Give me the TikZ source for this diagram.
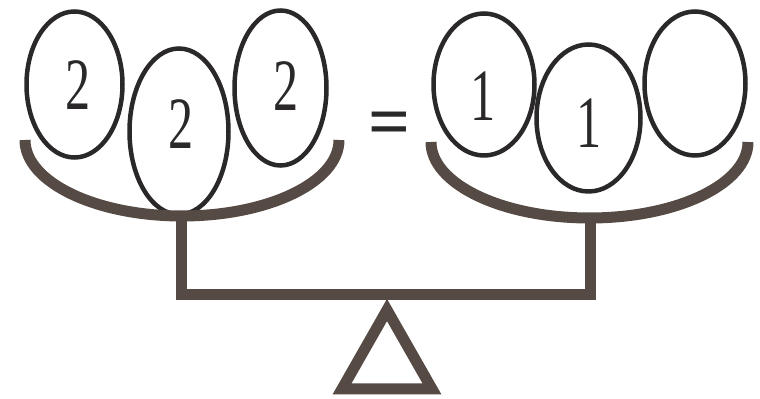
\documentclass[tikz,border=0pt]{standalone}
\usepackage{fontspec}
\setmainfont{Liberation Serif}
\usepackage{xcolor}
\definecolor{inkgray}{RGB}{42,40,40}
\definecolor{panbrown}{RGB}{86,74,68}
\usetikzlibrary{shapes.geometric,calc}

\tikzset{
  ball/.style={draw=inkgray, ellipse, line width=0.09cm, inner sep=0pt},
  digit/.style={inner sep=0pt, text=inkgray, font=\fontsize{42}{42}\selectfont},
  pan/.style={draw=panbrown, line width=0.22cm, line cap=butt},
  frame/.style={draw=panbrown, line width=0.22cm, line join=miter}
}
\newcommand{\narrow}[1]{\scalebox{0.68}[1]{#1}}

\begin{document}
\begin{tikzpicture}
  \fill[white] (0,0) rectangle (15.2,-7.98);
  \useasboundingbox (0,0) rectangle (15.2,-7.98);

  %% Left pan with its three balls
  \node[ball, minimum width=1.92cm, minimum height=2.92cm] (e1) at (1.49,-1.69) {};
  \node[ball, minimum width=1.98cm, minimum height=3.32cm] (e2) at (3.58,-2.63) {};
  \node[ball, minimum width=1.84cm, minimum height=3.10cm] (e3) at (5.61,-1.76) {};
  \node[digit] (d1) at (1.56,-1.70) {\narrow{2}};
  \node[digit] (d2) at (3.62,-2.48) {\narrow{2}};
  \node[digit] (d3) at (5.72,-1.72) {\narrow{2}};
  \coordinate (lpan) at (3.64,-2.80);
  \draw[pan] ($(lpan)+(-3.14,0)$) arc[start angle=180, end angle=360, x radius=3.14cm, y radius=1.52cm];

  %% Right pan with its three balls
  \node[ball, minimum width=2.02cm, minimum height=2.84cm] (e4) at (9.68,-1.69) {};
  \node[ball, minimum width=2.08cm, minimum height=2.94cm] (e5) at (11.77,-2.36) {};
  \node[ball, minimum width=2.02cm, minimum height=2.88cm] (e6) at (13.90,-1.67) {};
  \node[digit] (d4) at (9.66,-1.92) {\narrow{1}};
  \node[digit] (d5) at (11.78,-2.46) {\narrow{1}};
  \coordinate (rpan) at (11.79,-2.84);
  \draw[pan] ($(rpan)+(-3.17,0)$) arc[start angle=180, end angle=360, x radius=3.17cm, y radius=1.52cm];

  %% Equals sign
  \node[digit] (eq) at (7.80,-2.58) {\textbf{=}};

  %% Beam and stand
  \coordinate (lbot) at (3.62,-4.30);
  \coordinate (rbot) at (11.80,-4.34);
  \coordinate (beam) at (7.74,-5.90);
  \draw[frame] (lbot) -- (lbot |- beam) -- (rbot |- beam) -- (rbot);
  \draw[frame] (7.74,-6.20) -- (6.84,-7.78) -- (8.64,-7.78) -- cycle;
\end{tikzpicture}
\end{document}
